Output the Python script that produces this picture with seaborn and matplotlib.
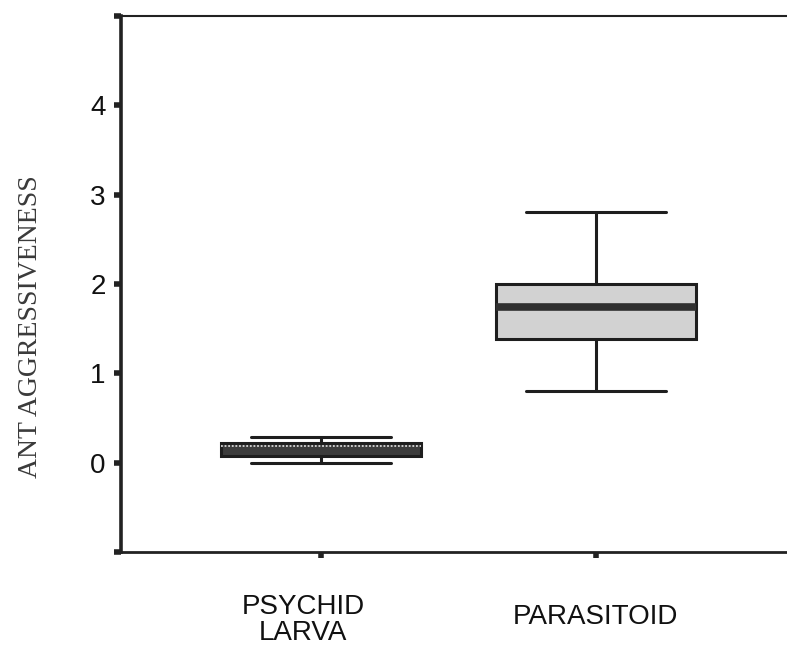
import numpy as np
import pandas as pd
import seaborn as sns
import matplotlib.pyplot as plt
from matplotlib.transforms import ScaledTranslation

# values: min, q1, median, q3, max for each group
groups = ["PSYCHID\nLARVA", "PARASITOID"]
psychid_vals = [0.00, 0.08, 0.19, 0.22, 0.29]
parasitoid_vals = [0.80, 1.38, 1.74, 2.00, 2.81]
y_ticks = [-1, 0, 1, 2, 3, 4, 5]
y_ticklabels = ["", "0", "1", "2", "3", "4", ""]

df = pd.DataFrame({
    "group": [groups[0]] * len(psychid_vals) + [groups[1]] * len(parasitoid_vals),
    "score": psychid_vals + parasitoid_vals,
})

sns.set_style("white")
plt.rcParams["font.family"] = ["Liberation Sans", "DejaVu Sans"]

fig = plt.figure(figsize=(7.87, 6.46), dpi=100)
ax = fig.add_axes([121 / 787, 1 - 552 / 646, 1 - 121 / 787, (552 - 16) / 646])

sns.boxplot(data=df, x="group", y="score", hue="group", order=groups,
            palette={groups[0]: "#3c3c3c", groups[1]: "#d2d2d2"},
            legend=False, width=0.727, whis=np.inf, capwidths=0.51,
            linecolor="#1e1e1e", linewidth=2.2, ax=ax)

# median lines: light thin on the dark box, thick dark on the light box
for line in ax.lines:
    y = line.get_ydata()
    if len(y) == 2 and y[0] == y[1]:
        if np.isclose(y[0], np.median(psychid_vals)):
            line.set_color("#d8d8d8")
            line.set_linewidth(1.3)
            line.set_linestyle((0, (1, 1)))
        elif np.isclose(y[0], np.median(parasitoid_vals)):
            line.set_color("#303030")
            line.set_linewidth(5.5)

ax.set_xlim(-0.727, 1.695)
ax.set_ylim(-1, 5)
ax.set_yticks(y_ticks)
ax.set_yticklabels(y_ticklabels)
ax.set_xlabel("")
ax.set_ylabel("ANT AGGRESSIVENESS", family=["Liberation Serif", "DejaVu Serif"],
              fontsize=20, color="#3a3a3a")
ax.yaxis.label.set_va("center")
ax.yaxis.set_label_coords(-0.136, 0.42)

ax.spines["right"].set_visible(False)
ax.spines["left"].set_linewidth(2.6)
ax.spines["bottom"].set_linewidth(2.0)
ax.spines["top"].set_linewidth(1.5)
for s in ["left", "bottom", "top"]:
    ax.spines[s].set_color("#222222")

ax.tick_params(axis="y", direction="out", length=5, width=4, color="#222222",
               labelsize=20, pad=6, left=True, labelcolor="#111111")
ax.tick_params(axis="x", direction="out", length=4, width=4, color="#222222",
               labelsize=20, pad=43, bottom=True, labelcolor="#111111")
xlabs = ax.get_xticklabels()
for lab in xlabs:
    lab.set_va("center")
    lab.set_linespacing(1.0)
# the two-line label sits a little left of its tick in the original
xlabs[0].set_transform(xlabs[0].get_transform() + ScaledTranslation(-0.18, -0.03, fig.dpi_scale_trans))

fig.savefig("out.png", dpi=100, facecolor="white")
